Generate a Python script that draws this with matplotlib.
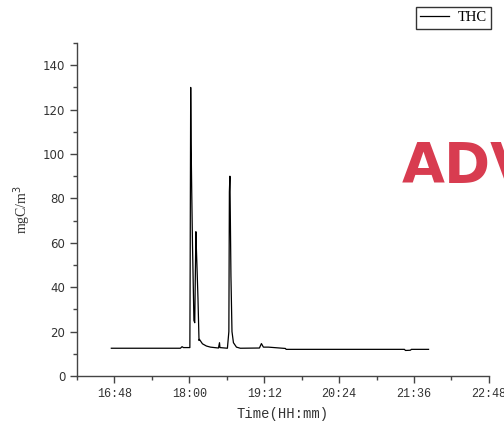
import matplotlib
matplotlib.use("Agg")
import matplotlib.pyplot as plt
from matplotlib.ticker import MultipleLocator, FuncFormatter
from matplotlib.lines import Line2D

# THC concentration record; time in minutes since midnight
time_min = [1005, 1071.4, 1073.0, 1074.3, 1080.5, 1080.8, 1081.3, 1081.7, 1082.3,
            1083.0, 1084.4, 1085.2, 1086.3, 1086.8, 1087.3, 1088.3, 1089.3, 1089.7,
            1092.6, 1096.4, 1100.3, 1108.0, 1109.0, 1109.4, 1116.6, 1118.0, 1118.5,
            1119.0, 1119.5, 1120.0, 1121.0, 1122.4, 1125.3, 1129.0, 1147.4, 1149.3,
            1151.2, 1156.0, 1172.4, 1173.0, 1286.8, 1287.8, 1292.5, 1293.5, 1310.0]
thc = [12.5, 12.5, 13.2, 12.8, 12.8, 50, 130, 105, 83,
       60, 25, 24, 65, 57, 50, 35, 16, 16.5,
       14.5, 13.5, 13.0, 12.6, 15.0, 12.8, 12.5, 20, 83,
       90, 68, 45, 20, 15, 13, 12.5, 12.6, 14.6,
       13.0, 13.0, 12.4, 12.0, 12.0, 11.5, 11.6, 12.0, 12.0]

x_ticks = [1008, 1080, 1152, 1224, 1296, 1368]
y_ticks = [0, 20, 40, 60, 80, 100, 120, 140]

fig = plt.figure(figsize=(5.04, 4.26), dpi=100)
ax = fig.add_axes([0.1528, 0.1174, 0.8172, 0.7816])

ax.plot(time_min, thc, color="black", lw=0.9)

ax.set_xlim(972, 1368)
ax.set_ylim(0, 150)
ax.set_xticks(x_ticks)
ax.xaxis.set_minor_locator(MultipleLocator(36))
ax.set_yticks(y_ticks)
ax.yaxis.set_minor_locator(MultipleLocator(10))
ax.xaxis.set_major_formatter(FuncFormatter(lambda v, p: f"{int(v)//60}:{int(v)%60:02d}"))

for s in ("top", "right"):
    ax.spines[s].set_visible(False)
for s in ("left", "bottom"):
    ax.spines[s].set_color("#444444")
    ax.spines[s].set_linewidth(1.0)

ax.tick_params(which="major", direction="out", length=5, width=1, color="#444444")
ax.tick_params(which="minor", direction="out", length=3, width=1, color="#444444")
for lab in ax.get_xticklabels():
    lab.set_fontfamily("Liberation Mono")
    lab.set_fontsize(8.5)
    lab.set_color("#333333")
for lab in ax.get_yticklabels():
    lab.set_fontfamily("DejaVu Sans")
    lab.set_fontsize(8.5)
    lab.set_color("#333333")

ax.set_xlabel("Time(HH:mm)", family="Liberation Mono", fontsize=10, color="#333333", labelpad=5)
ax.set_ylabel("mgC/m$^3$", family="Liberation Serif", fontsize=10, color="#333333", labelpad=7)

handle = Line2D([], [], color="black", lw=0.9)
leg = fig.legend([handle], ["THC"], loc="upper right", bbox_to_anchor=(0.975, 0.984),
                 frameon=True, fancybox=False, edgecolor="black", handlelength=2.0,
                 handletextpad=0.6, borderpad=0.3, borderaxespad=0,
                 prop={"family": "Liberation Serif", "size": 10.5})
leg.get_frame().set_linewidth(1.0)

fig.text(0.797, 0.572, "ADV", color="#d83c50", fontsize=40, fontweight="bold",
         family="DejaVu Sans", ha="left", va="baseline")

fig.savefig("out.png", dpi=100)
